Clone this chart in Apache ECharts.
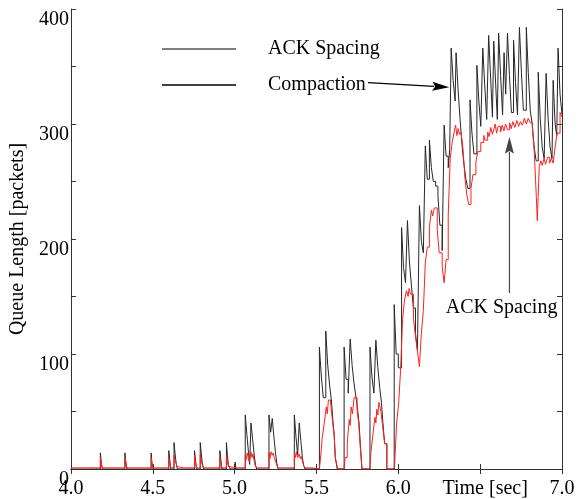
<!DOCTYPE html>
<html>
<head>
<meta charset="utf-8">
<script src="https://cdn.jsdelivr.net/npm/echarts@6/dist/echarts.min.js"></script>
<style>
html,body{margin:0;padding:0;background:#fff;}
#chart{width:582px;height:499px;}
</style>
</head>
<body>
<div id="chart"></div>
<script>
// x tick values (seconds) and y tick values (packets)
const xTicks = [4.0, 4.5, 5.0, 5.5, 6.0, 6.5, 7.0];
const yLabelValues = [0, 100, 200, 300, 400];
const seriesNames = ['ACK Spacing', 'Compaction'];

// Compaction queue length [time, packets] (sample-and-hold)
const compaction = [
[4.000,0],
[4.180,14],[4.186,5],[4.192,0],
[4.330,14],[4.336,5],[4.342,0],
[4.490,14],[4.496,4],[4.502,0],
[4.598,16],[4.604,8],[4.610,0],[4.630,23],[4.636,14],[4.642,6],[4.650,0],
[4.755,16],[4.761,8],[4.767,0],[4.790,23],[4.796,14],[4.802,6],[4.810,0],
[4.910,16],[4.916,8],[4.922,0],[4.950,23],[4.956,12],[4.962,4],[4.972,0],
[5.003,6],[5.008,0],
[5.065,47],[5.075,30],[5.085,14],[5.092,4],[5.100,40],[5.110,26],[5.120,12],[5.128,3],[5.135,0],
[5.210,47],[5.220,32],[5.230,44],[5.240,28],[5.250,14],[5.258,5],[5.266,0],
[5.365,47],[5.375,28],[5.385,12],[5.395,40],[5.405,24],[5.414,10],[5.422,3],[5.430,0],
[5.518,106],[5.530,80],[5.542,62],[5.557,120],[5.569,90],[5.581,72],[5.591,60],[5.600,43],[5.609,28],[5.615,10],[5.627,0],
[5.669,106],[5.681,78],[5.694,66],[5.706,113],[5.718,90],[5.730,74],[5.742,62],[5.752,51],[5.760,40],[5.768,22],[5.778,0],
[5.827,106],[5.839,80],[5.851,66],[5.863,112],[5.875,88],[5.887,70],[5.897,58],[5.906,40],[5.917,22],[5.930,0],
[5.975,143],[5.987,100],[6.000,88],[6.020,210],[6.032,175],[6.044,162],[6.056,216],[6.068,180],[6.080,160],[6.092,140],[6.105,118],[6.117,103],
[6.129,229],[6.141,198],[6.153,188],[6.165,281],[6.177,252],[6.190,286],[6.202,262],[6.214,250],[6.228,246],[6.242,238],[6.254,212],[6.268,190],
[6.280,299],[6.292,272],[6.305,262],[6.314,278],
[6.323,366],[6.335,338],[6.347,320],[6.353,362],[6.365,330],[6.377,305],[6.389,282],[6.401,265],[6.413,252],[6.425,244],
[6.438,321],[6.450,292],[6.462,274],
[6.480,351],[6.492,320],[6.504,298],
[6.516,366],[6.528,334],[6.540,304],
[6.552,377],[6.564,340],[6.575,306],
[6.583,372],[6.595,334],[6.605,304],
[6.613,379],[6.625,342],[6.637,308],
[6.646,362],[6.656,326],
[6.667,379],[6.679,342],[6.691,310],
[6.704,373],[6.716,336],[6.728,308],
[6.740,384],[6.752,345],[6.764,312],
[6.782,384],[6.794,345],[6.806,312],[6.818,300],[6.830,280],[6.842,268],
[6.855,345],[6.867,305],[6.879,280],[6.891,270],
[6.903,344],[6.915,305],[6.927,280],[6.939,270],
[6.946,338],[6.958,300],[6.968,290],
[6.976,366],[6.988,326],[7.000,308]
];

// ACK Spacing queue length [time, packets] (sample-and-hold)
const ackSpacing = [
[4.000,1],[4.030,2],[4.040,1],[4.070,2],[4.080,1],[4.110,2],[4.120,1],[4.150,2],[4.160,1],
[4.180,10],[4.186,4],[4.192,1],[4.230,2],[4.240,1],[4.270,2],[4.280,1],
[4.330,10],[4.336,6],[4.342,1],[4.380,2],[4.390,1],[4.420,2],[4.430,1],
[4.490,10],[4.496,3],[4.502,1],[4.540,2],[4.550,1],
[4.598,10],[4.604,5],[4.610,1],[4.630,12],[4.636,8],[4.642,5],[4.650,2],[4.660,1],[4.690,2],[4.700,1],
[4.755,12],[4.761,6],[4.767,1],[4.790,12],[4.796,8],[4.802,4],[4.810,1],[4.850,2],[4.860,1],
[4.910,10],[4.916,5],[4.922,1],[4.950,12],[4.956,6],[4.962,2],[4.972,1],[5.020,2],[5.030,1],
[5.065,12],[5.071,8],[5.077,14],[5.083,10],[5.090,6],[5.100,15],[5.106,10],[5.112,13],[5.118,8],[5.126,3],[5.135,1],[5.170,2],[5.180,1],
[5.210,14],[5.216,9],[5.222,15],[5.230,12],[5.236,14],[5.242,10],[5.250,7],[5.258,3],[5.266,1],[5.310,2],[5.320,1],
[5.365,14],[5.371,10],[5.377,15],[5.385,10],[5.395,13],[5.401,9],[5.407,11],[5.414,7],[5.422,3],[5.430,1],[5.470,2],[5.480,0],
[5.518,0],[5.524,8],[5.530,18],[5.536,28],[5.548,40],[5.560,54],[5.566,48],[5.573,60],[5.586,58],[5.597,43],[5.609,28],[5.615,10],[5.627,2],[5.635,0],
[5.669,0],[5.675,10],[5.688,22],[5.700,43],[5.706,38],[5.712,54],[5.720,48],[5.730,62],[5.748,51],[5.758,40],[5.766,22],[5.778,0],
[5.827,0],[5.833,15],[5.845,30],[5.857,45],[5.863,40],[5.869,52],[5.875,47],[5.882,58],[5.894,50],[5.906,35],[5.917,22],[5.930,0],
[5.975,0],[5.978,5],[5.990,40],[6.002,57],[6.014,86],[6.026,130],[6.038,147],[6.050,155],[6.060,150],[6.066,157],[6.075,152],[6.093,130],[6.105,115],[6.117,103],[6.129,89],
[6.141,118],[6.153,138],[6.165,179],[6.177,193],[6.190,210],[6.202,225],[6.210,220],[6.220,227],[6.238,208],[6.250,188],[6.268,176],[6.280,162],[6.292,182],[6.305,221],[6.317,270],[6.329,284],
[6.341,293],[6.350,299],[6.358,290],[6.366,296],[6.374,291],[6.383,293],[6.395,279],[6.407,253],[6.419,238],[6.431,230],[6.444,244],[6.456,256],[6.474,267],[6.486,276],[6.504,284],[6.522,290],[6.530,286],
[6.546,293],[6.555,289],[6.565,297],[6.575,291],[6.583,295],[6.592,300],[6.600,292],[6.610,298],[6.625,293],[6.635,299],[6.645,294],[6.655,300],[6.667,295],[6.680,301],[6.690,296],[6.700,302],
[6.712,297],[6.724,303],[6.735,298],[6.746,302],[6.758,299],[6.770,305],[6.782,300],[6.794,305],[6.806,301],[6.819,297],[6.831,275],[6.843,237],[6.849,216],[6.861,263],[6.870,268],[6.879,264],
[6.890,270],[6.900,265],[6.912,271],[6.925,266],[6.935,270],[6.946,266],[6.958,280],[6.970,292],[6.988,310],[7.000,306]
];

// annotation arrows [from, to] in data coordinates
const compactionArrow = [[5.815, 336], [6.311, 332]];
const ackArrow = [[6.679, 153], [6.679, 289]];
const ackLabel = {text: 'ACK Spacing', at: [6.631, 140]};

const FONT = '"Liberation Serif", "Times New Roman", serif';
const chart = echarts.init(document.getElementById('chart'), null, {renderer: 'canvas'});

const axisCommon = {
  axisLine: {show: true, lineStyle: {color: '#333', width: 1}},
  axisTick: {show: true, inside: true, length: 5, lineStyle: {color: '#333'}},
  splitLine: {show: false}
};

const option = {
  backgroundColor: '#fff',
  animation: false,
  grid: {left: 66, right: 20, top: 9, bottom: 30},
  legend: {
    orient: 'vertical', left: 157, top: 34, itemGap: 16,
    itemWidth: 74, itemHeight: 1.5, icon: 'rect',
    data: [
      {name: seriesNames[0], itemStyle: {color: '#555'}},
      {name: seriesNames[1], itemStyle: {color: '#000'}}
    ],
    textStyle: {fontFamily: FONT, fontSize: 20, color: '#000', padding: [8, 0, 0, 27]}
  },
  xAxis: [
    Object.assign({}, axisCommon, {
      type: 'value', min: xTicks[0], max: xTicks[xTicks.length - 1], interval: 0.5, position: 'bottom',
      axisLabel: {
        fontFamily: FONT, fontSize: 20, color: '#000', margin: 10,
        formatter: v => Math.abs(v - 6.5) < 1e-6 ? '{t|Time [sec]}' : v.toFixed(1),
        rich: {t: {fontFamily: FONT, fontSize: 20, color: '#000', padding: [0, 0, 0, 10]}}
      }
    }),
    Object.assign({}, axisCommon, {
      type: 'value', min: xTicks[0], max: xTicks[xTicks.length - 1], interval: 0.5, position: 'top',
      axisLabel: {show: false}
    })
  ],
  yAxis: [
    Object.assign({}, axisCommon, {
      type: 'value', min: 0, max: 400, interval: 50, position: 'left',
      name: 'Queue Length [packets]', nameLocation: 'middle', nameGap: 31,
      nameTextStyle: {fontFamily: FONT, fontSize: 20, color: '#000'},
      axisLabel: {
        fontFamily: FONT, fontSize: 20, color: '#000', margin: 2,
        formatter: v => yLabelValues.indexOf(v) >= 0 ? '{a|' + v + '}' : '',
        rich: {a: {fontFamily: FONT, fontSize: 20, color: '#000', padding: [22, 0, 0, 0]}}
      }
    }),
    Object.assign({}, axisCommon, {
      type: 'value', min: 0, max: 400, interval: 50, position: 'right',
      axisLabel: {show: false}
    })
  ],
  series: [
    {
      name: seriesNames[1], type: 'line', step: 'end', data: compaction,
      showSymbol: false, symbol: 'none', z: 2,
      lineStyle: {color: '#262626', width: 1},
      itemStyle: {color: '#000'}
    },
    {
      name: seriesNames[0], type: 'line', step: 'end', data: ackSpacing,
      showSymbol: false, symbol: 'none', z: 3,
      lineStyle: {color: '#ff2020', width: 1},
      itemStyle: {color: '#ff0000'}
    }
  ]
};
chart.setOption(option);

function arrowGraphics(from, to, color) {
  const a = chart.convertToPixel({gridIndex: 0}, from);
  const b = chart.convertToPixel({gridIndex: 0}, to);
  const dx = b[0] - a[0], dy = b[1] - a[1];
  const len = Math.sqrt(dx * dx + dy * dy);
  const ux = dx / len, uy = dy / len;
  const headLen = 17, headHalf = 4.5;
  const bx = b[0] - ux * headLen, by = b[1] - uy * headLen;
  return [
    {type: 'line', silent: true, z: 50, shape: {x1: a[0], y1: a[1], x2: bx + ux * 2, y2: by + uy * 2},
     style: {stroke: color, lineWidth: 1.2}},
    {type: 'polygon', silent: true, z: 50,
     shape: {points: [[b[0], b[1]], [bx - uy * headHalf, by + ux * headHalf], [bx + ux * 3, by + uy * 3], [bx + uy * headHalf, by - ux * headHalf]]},
     style: {fill: color}}
  ];
}

const p = chart.convertToPixel({gridIndex: 0}, ackLabel.at);
chart.setOption({
  graphic: [].concat(
    arrowGraphics(compactionArrow[0], compactionArrow[1], '#000'),
    arrowGraphics(ackArrow[0], ackArrow[1], '#444'),
    [{
      type: 'text', x: p[0], y: p[1], silent: true, z: 50,
      style: {text: ackLabel.text, font: '20px ' + FONT, fill: '#000', align: 'center', verticalAlign: 'middle'}
    }]
  )
});
</script>
</body>
</html>
